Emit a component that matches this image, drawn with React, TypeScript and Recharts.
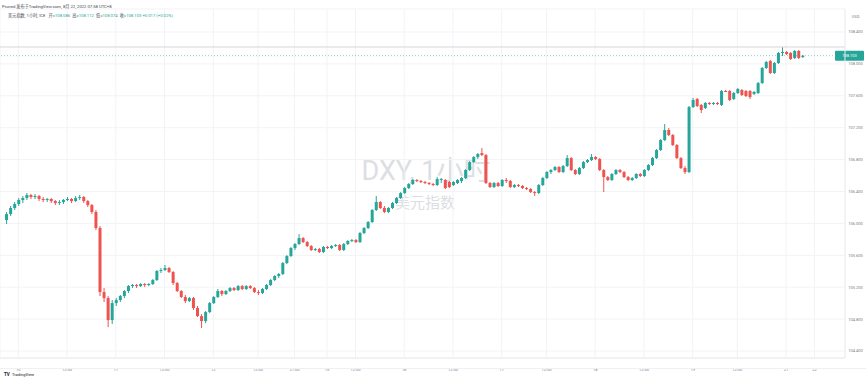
import React from "react";
import { ComposedChart, Bar, XAxis, YAxis, CartesianGrid, ReferenceLine } from "recharts";

// hourly bars as [open, high, low, close], grouped by session day
const aug09 = [
  [106.042, 106.143, 105.992, 106.117], [106.117, 106.218, 106.092, 106.193], [106.193, 106.268, 106.168, 106.243],
];
const aug10 = [
  [106.243, 106.318, 106.218, 106.293], [106.293, 106.343, 106.255, 106.318], [106.318, 106.381, 106.293, 106.356],
  [106.356, 106.368, 106.306, 106.331], [106.331, 106.368, 106.306, 106.343], [106.343, 106.356, 106.28, 106.306],
  [106.306, 106.331, 106.268, 106.293], [106.293, 106.318, 106.268, 106.306], [106.306, 106.318, 106.255, 106.28],
  [106.28, 106.293, 106.23, 106.255], [106.255, 106.293, 106.23, 106.268], [106.268, 106.306, 106.243, 106.293],
  [106.293, 106.331, 106.28, 106.306], [106.306, 106.318, 106.255, 106.28], [106.28, 106.343, 106.268, 106.318],
  [106.318, 106.356, 106.293, 106.331], [106.331, 106.343, 106.255, 106.28], [106.28, 106.293, 106.205, 106.23],
  [106.23, 106.243, 106.117, 106.143], [106.143, 106.168, 105.917, 105.942], [105.942, 105.967, 105.089, 105.139],
  [105.139, 105.189, 105.014, 105.064], [105.064, 105.089, 104.7, 104.788], [104.788, 105.039, 104.738, 105.001],
];
const aug11 = [
  [105.001, 105.064, 104.964, 105.039], [105.039, 105.102, 105.014, 105.089], [105.089, 105.164, 105.064, 105.152],
  [105.152, 105.227, 105.127, 105.214], [105.214, 105.24, 105.189, 105.227], [105.227, 105.24, 105.189, 105.214],
  [105.214, 105.252, 105.202, 105.24], [105.24, 105.252, 105.202, 105.227], [105.227, 105.252, 105.214, 105.24],
  [105.24, 105.302, 105.227, 105.29], [105.29, 105.415, 105.277, 105.403], [105.403, 105.44, 105.378, 105.415],
  [105.415, 105.478, 105.403, 105.44], [105.44, 105.453, 105.378, 105.39], [105.39, 105.403, 105.227, 105.252],
  [105.252, 105.265, 105.139, 105.152], [105.152, 105.164, 105.064, 105.077], [105.077, 105.102, 105.001, 105.026],
  [105.026, 105.077, 105.014, 105.064], [105.064, 105.077, 104.914, 104.939], [104.939, 104.964, 104.826, 104.838],
  [104.838, 104.863, 104.688, 104.775], [104.775, 104.901, 104.75, 104.888], [104.888, 105.014, 104.876, 105.001],
];
const aug12 = [
  [105.001, 105.089, 104.989, 105.077], [105.077, 105.177, 105.064, 105.152], [105.152, 105.164, 105.089, 105.114],
  [105.114, 105.164, 105.102, 105.152], [105.152, 105.202, 105.139, 105.189], [105.189, 105.202, 105.152, 105.164],
  [105.164, 105.227, 105.152, 105.214], [105.214, 105.227, 105.164, 105.177], [105.177, 105.227, 105.164, 105.214],
  [105.214, 105.227, 105.177, 105.189], [105.189, 105.202, 105.127, 105.139], [105.139, 105.164, 105.102, 105.127],
  [105.127, 105.189, 105.114, 105.177], [105.177, 105.24, 105.164, 105.227], [105.227, 105.302, 105.214, 105.29],
  [105.29, 105.352, 105.277, 105.34], [105.34, 105.378, 105.315, 105.365], [105.365, 105.516, 105.352, 105.503],
  [105.503, 105.603, 105.491, 105.591], [105.591, 105.704, 105.578, 105.691],
];
const aug14 = [
  [105.691, 105.754, 105.666, 105.741], [105.741, 105.866, 105.729, 105.816], [105.816, 105.829, 105.754, 105.766],
  [105.766, 105.779, 105.704, 105.716], [105.716, 105.729, 105.653, 105.666], [105.666, 105.691, 105.653, 105.678],
  [105.678, 105.691, 105.628, 105.641], [105.641, 105.716, 105.628, 105.704],
];
const aug15 = [
  [105.704, 105.716, 105.678, 105.691], [105.691, 105.729, 105.678, 105.716], [105.716, 105.741, 105.704, 105.729],
  [105.729, 105.741, 105.653, 105.666], [105.666, 105.754, 105.653, 105.741], [105.741, 105.791, 105.729, 105.779],
  [105.779, 105.804, 105.766, 105.791], [105.791, 105.804, 105.754, 105.766], [105.766, 105.892, 105.754, 105.879],
  [105.879, 105.954, 105.866, 105.942], [105.942, 106.03, 105.929, 106.017], [106.017, 106.18, 106.004, 106.168],
  [106.168, 106.343, 106.155, 106.268], [106.268, 106.28, 106.18, 106.193], [106.193, 106.218, 106.13, 106.143],
  [106.143, 106.205, 106.13, 106.193], [106.193, 106.268, 106.18, 106.255], [106.255, 106.331, 106.243, 106.318],
  [106.318, 106.393, 106.306, 106.381],
];
const aug16 = [
  [106.381, 106.456, 106.368, 106.443], [106.443, 106.506, 106.431, 106.494], [106.494, 106.556, 106.481, 106.544],
  [106.544, 106.556, 106.519, 106.531], [106.531, 106.544, 106.506, 106.519], [106.519, 106.531, 106.494, 106.506],
  [106.506, 106.519, 106.481, 106.494], [106.494, 106.506, 106.469, 106.481], [106.481, 106.581, 106.469, 106.556],
  [106.544, 106.569, 106.506, 106.556], [106.544, 106.556, 106.431, 106.443], [106.519, 106.531, 106.443, 106.456],
  [106.481, 106.531, 106.469, 106.519], [106.506, 106.556, 106.494, 106.544], [106.531, 106.581, 106.506, 106.569],
  [106.569, 106.681, 106.556, 106.669], [106.669, 106.782, 106.656, 106.769], [106.769, 106.844, 106.757, 106.832],
  [106.832, 106.882, 106.807, 106.87], [106.882, 106.945, 106.844, 106.857], [106.857, 106.87, 106.494, 106.506],
  [106.506, 106.519, 106.443, 106.456], [106.456, 106.519, 106.443, 106.506], [106.506, 106.519, 106.456, 106.469],
];
const aug17 = [
  [106.469, 106.556, 106.456, 106.544], [106.544, 106.569, 106.506, 106.531], [106.531, 106.544, 106.443, 106.456],
  [106.456, 106.494, 106.443, 106.481], [106.481, 106.494, 106.456, 106.469], [106.469, 106.481, 106.431, 106.443],
  [106.443, 106.456, 106.418, 106.431], [106.431, 106.443, 106.381, 106.393], [106.393, 106.406, 106.343, 106.381],
  [106.381, 106.494, 106.368, 106.481], [106.481, 106.581, 106.469, 106.569], [106.569, 106.656, 106.556, 106.644],
  [106.644, 106.681, 106.619, 106.669], [106.669, 106.719, 106.656, 106.707], [106.707, 106.719, 106.631, 106.644],
  [106.644, 106.732, 106.631, 106.719], [106.719, 106.857, 106.707, 106.819], [106.819, 106.832, 106.656, 106.669],
  [106.669, 106.681, 106.606, 106.619], [106.619, 106.707, 106.606, 106.694], [106.694, 106.782, 106.681, 106.769],
  [106.769, 106.807, 106.757, 106.794], [106.794, 106.87, 106.782, 106.832],
];
const aug18 = [
  [106.832, 106.844, 106.794, 106.807], [106.807, 106.819, 106.656, 106.669], [106.669, 106.681, 106.393, 106.581],
  [106.581, 106.594, 106.531, 106.544], [106.544, 106.631, 106.531, 106.619], [106.619, 106.681, 106.606, 106.669],
  [106.669, 106.681, 106.631, 106.644], [106.644, 106.656, 106.569, 106.581], [106.581, 106.594, 106.531, 106.544],
  [106.544, 106.581, 106.531, 106.569], [106.569, 106.631, 106.556, 106.619], [106.619, 106.631, 106.581, 106.594],
  [106.594, 106.681, 106.581, 106.669], [106.669, 106.744, 106.656, 106.732], [106.732, 106.832, 106.719, 106.819],
  [106.819, 106.932, 106.807, 106.92], [106.92, 107.058, 106.907, 107.045], [107.045, 107.246, 107.033, 107.171],
  [107.171, 107.196, 107.096, 107.108], [107.108, 107.121, 106.97, 106.983], [106.983, 106.995, 106.807, 106.819],
  [106.819, 106.832, 106.681, 106.694], [106.694, 106.719, 106.619, 106.644], [106.644, 107.472, 106.631, 107.459],
];
const aug19 = [
  [107.459, 107.572, 107.447, 107.547], [107.56, 107.572, 107.459, 107.472], [107.485, 107.497, 107.384, 107.422],
  [107.447, 107.522, 107.434, 107.51], [107.51, 107.522, 107.485, 107.497], [107.497, 107.522, 107.485, 107.51],
  [107.51, 107.522, 107.485, 107.497], [107.485, 107.673, 107.472, 107.66], [107.66, 107.673, 107.648, 107.648],
  [107.66, 107.673, 107.535, 107.547], [107.56, 107.648, 107.547, 107.635], [107.635, 107.698, 107.623, 107.685],
  [107.673, 107.685, 107.597, 107.61], [107.66, 107.673, 107.585, 107.597], [107.66, 107.673, 107.56, 107.585],
  [107.623, 107.66, 107.61, 107.648], [107.635, 107.773, 107.623, 107.76], [107.76, 107.961, 107.748, 107.949],
  [107.949, 108.036, 107.936, 108.024], [108.036, 108.049, 107.873, 107.886], [107.886, 108.024, 107.873, 108.011],
  [108.011, 108.149, 107.999, 108.137], [108.137, 108.212, 108.099, 108.149],
];
const aug21 = [
  [108.149, 108.162, 108.112, 108.124], [108.137, 108.149, 108.049, 108.061], [108.074, 108.174, 108.061, 108.162],
  [108.162, 108.174, 108.061, 108.074], [108.086, 108.112, 108.074, 108.103],
];

const tickIdx = [4, 16, 28, 40, 52, 63, 72, 80, 87, 99, 111, 123, 134, 146, 158, 170, 181, 193, 200];
const tickLabels = ["10", "12:00", "11", "12:00", "12", "12:00", "21:00", "15", "12:00", "16", "12:00", "17", "12:00", "18", "12:00", "19", "12:00", "21", "22"];
const priceTicks = [104.4, 104.6, 104.8, 105, 105.2, 105.4, 105.6, 105.8, 106, 106.2, 106.4, 106.6, 106.8, 107, 107.2, 107.4, 107.6, 107.8, 108, 108.2, 108.4];
const lastPrice = 108.103;
const highLine = 108.212;

const UP = "#26a69a";
const DOWN = "#ef5350";
const AXIS_TXT = "#787b86";
const FONT = "Roboto, 'Noto Sans CJK SC', sans-serif";

const W = 866;
const H = 380;
const SLOTS = 208;

const bars = [...aug09, ...aug10, ...aug11, ...aug12, ...aug14, ...aug15, ...aug16, ...aug17, ...aug18, ...aug19, ...aug21];

// first slot empty, empty slots after the last bar
const data = Array.from({ length: SLOTS }, (_, i) => {
  const b = bars[i - 1];
  if (!b) return { i, range: null };
  return { i, o: b[0], h: b[1], l: b[2], c: b[3], range: [b[2], b[1]] };
});

function Candle(props: any) {
  const { x, y, width, height, payload } = props;
  if (!payload || payload.o == null || height == null) return null;
  const { o, h, l, c } = payload;
  const top = Math.min(y, y + height);
  const hgt = Math.abs(height);
  const k = h > l ? hgt / (h - l) : 0;
  const yOf = (p: number) => top + (h - p) * k;
  const color = c >= o ? UP : DOWN;
  const cx = x + width / 2;
  const bTop = yOf(Math.max(o, c));
  const bBot = yOf(Math.min(o, c));
  return (
    <g>
      <line x1={cx} x2={cx} y1={top} y2={top + hgt} stroke={color} strokeWidth={1} />
      <rect x={x} y={bTop} width={width} height={Math.max(1, bBot - bTop)} fill={color} />
    </g>
  );
}

function TimeTick({ x, y, payload }: any) {
  const k = tickIdx.indexOf(payload.value);
  return (
    <text x={x} y={y + 3} textAnchor="middle" dominantBaseline="central" fontSize={4} fill={AXIS_TXT} fontFamily={FONT}>
      {k >= 0 ? tickLabels[k] : ""}
    </text>
  );
}

function PriceTick({ y, payload }: any) {
  return (
    <text x={855.5} y={y} textAnchor="middle" dominantBaseline="central" fontSize={4} fill={AXIS_TXT} fontFamily={FONT}>
      {Number(payload.value).toFixed(3)}
    </text>
  );
}

function PriceBox({ viewBox }: any) {
  const y = viewBox.y;
  return (
    <g>
      <rect x={835} y={y - 5} width={29} height={10} fill={UP} rx={1} />
      <text x={849.5} y={y} textAnchor="middle" dominantBaseline="central" fontSize={4} fill="#fff" fontFamily={FONT}>
        {lastPrice.toFixed(3)}
      </text>
    </g>
  );
}

export default function App() {
  return (
    <div style={{ position: "absolute", left: 0, top: 0, width: W, height: H, background: "#fff", overflow: "hidden" }}>
      <svg width={W} height={H} style={{ position: "absolute", left: 0, top: 0 }}>
        <text x={426} y={171} textAnchor="middle" dominantBaseline="central" fontSize={27} fill="#dcdee3" fontFamily={FONT}>
          DXY, 1小时
        </text>
        <text x={425} y={203} textAnchor="middle" dominantBaseline="central" fontSize={15} fill="#dcdee3" fontFamily={FONT}>
          美元指数
        </text>
      </svg>
      <div style={{ position: "absolute", left: 0, top: 0 }}>
        <ComposedChart width={W} height={H} data={data} margin={{ top: 9, right: 0, bottom: 0, left: 0 }} barCategoryGap={0}>
          <CartesianGrid stroke="#f2f3f6" strokeWidth={1} />
          <XAxis
            dataKey="i"
            ticks={tickIdx}
            interval={0}
            height={22}
            tick={<TimeTick />}
            tickLine={false}
            axisLine={{ stroke: "#e9ebef" }}
          />
          <YAxis
            orientation="right"
            width={21}
            domain={[104.3122, 108.6884]}
            ticks={priceTicks}
            allowDataOverflow
            tick={<PriceTick />}
            tickLine={false}
            axisLine={{ stroke: "#eceef2" }}
          />
          <ReferenceLine y={highLine} stroke="#d3d5da" strokeWidth={1} />
          <ReferenceLine y={lastPrice} stroke={UP} strokeDasharray="1 2" strokeOpacity={0.5} label={<PriceBox />} />
          <Bar dataKey="range" barSize={3} shape={<Candle />} isAnimationActive={false} />
        </ComposedChart>
      </div>
      <svg width={W} height={H} style={{ position: "absolute", left: 0, top: 0, pointerEvents: "none" }}>
        <text x={2} y={6} fontSize={4.2} fill="#434651" fontFamily={FONT} dominantBaseline="central">
          Pruned 发布于TradingView.com, 8月 22, 2022 07:58 UTC+8
        </text>
        <text x={8} y={15} fontSize={4.2} fontFamily={FONT} dominantBaseline="central">
          <tspan fill="#434651">美元指数, 1小时, ICE</tspan>
          <tspan fill="#434651" dx={3}>开</tspan>
          <tspan fill={UP}>=108.086</tspan>
          <tspan fill="#434651" dx={2}>高</tspan>
          <tspan fill={UP}>=108.112</tspan>
          <tspan fill="#434651" dx={2}>低</tspan>
          <tspan fill={UP}>=108.074</tspan>
          <tspan fill="#434651" dx={2}>收</tspan>
          <tspan fill={UP}>=108.103 +0.017 (+0.02%)</tspan>
        </text>
        <text x={855.5} y={16} textAnchor="middle" dominantBaseline="central" fontSize={4} fill={AXIS_TXT} fontFamily={FONT}>
          USD
        </text>
        <line x1={0} x2={W} y1={368.5} y2={368.5} stroke="#eef0f3" />
        <text x={4} y={374} fontSize={4.5} fontWeight={700} fill="#131722" fontFamily={FONT} dominantBaseline="central">
          TV
        </text>
        <text x={12} y={374} fontSize={4} fill="#131722" fontFamily={FONT} dominantBaseline="central">
          TradingView
        </text>
      </svg>
    </div>
  );
}
